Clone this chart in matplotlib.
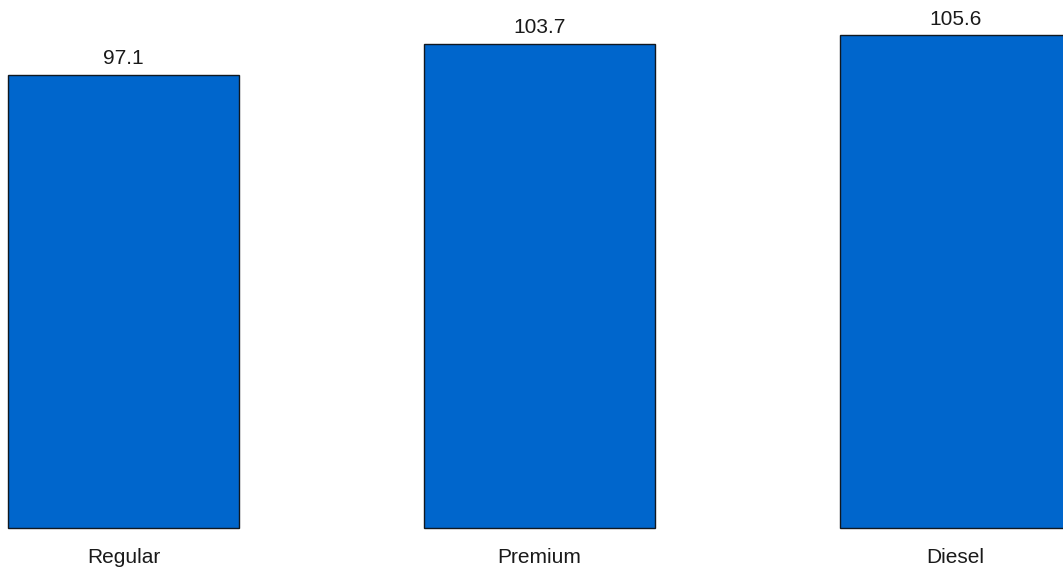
import matplotlib
matplotlib.use("Agg")
import matplotlib.pyplot as plt

categories = ["Regular", "Premium", "Diesel"]
values = [97.1, 103.7, 105.6]
value_labels = ["97.1", "103.7", "105.6"]

W, H = 1063, 576
dpi = 100
fig = plt.figure(figsize=(W / dpi, H / dpi), dpi=dpi)
base_px = 527.5
ax = fig.add_axes([0, (H - base_px) / H, 1, base_px / H])
px_per_unit = 4.665
ax.set_ylim(0, base_px / px_per_unit)
spacing = 416.0
ax.set_xlim(-123.5 / spacing, (W - 123.5) / spacing)

x = list(range(len(categories)))
bars = ax.bar(x, values, width=231 / spacing, color="#0066CC",
              edgecolor="#101820", linewidth=1.0, clip_on=False)
for b, lab in zip(bars, value_labels):
    ax.annotate(lab, (b.get_x() + b.get_width() / 2, b.get_height()),
                xytext=(0, 4.5), textcoords="offset points",
                ha="center", va="bottom", fontsize=15,
                family="Liberation Sans", color="#1a1a1a")

ax.set_xticks(x)
ax.set_xticklabels(categories, fontsize=15, family="Liberation Sans", color="#1a1a1a")
ax.tick_params(axis="x", length=0, pad=14.5)
ax.set_yticks([])
for s in ax.spines.values():
    s.set_visible(False)
ax.patch.set_alpha(0)

fig.savefig("out.png", dpi=dpi)
